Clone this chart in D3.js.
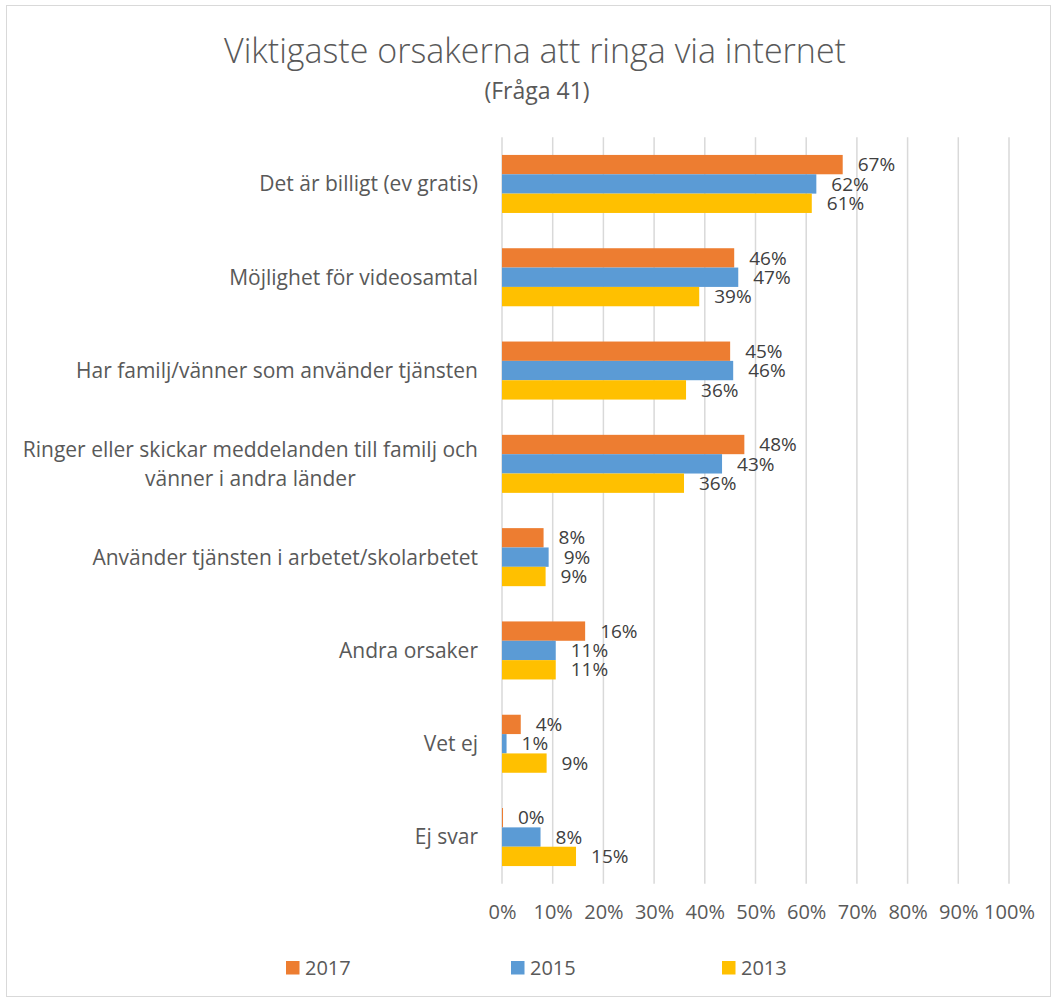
<!DOCTYPE html>
<html>
<head>
<meta charset="utf-8">
<script src="https://cdn.jsdelivr.net/npm/d3@7"></script>
<style>
  html, body { margin: 0; padding: 0; background: #fff; }
  svg { display: block; font-family: "Open Sans", Lato, sans-serif; }
</style>
</head>
<body>
<svg id="chart" width="1057" height="1001"></svg>
<script>
const categories = [
  "Det är billigt (ev gratis)",
  "Möjlighet för videosamtal",
  "Har familj/vänner som använder tjänsten",
  "Ringer eller skickar meddelanden till familj och\nvänner i andra länder",
  "Använder tjänsten i arbetet/skolarbetet",
  "Andra orsaker",
  "Vet ej",
  "Ej svar"
];
const seriesNames = ["2017", "2015", "2013"];
const values2017 = [67.2, 45.8, 45.0, 47.8, 8.2, 16.4, 3.7, 0.2];
const values2015 = [62.0, 46.6, 45.6, 43.4, 9.2, 10.6, 0.9, 7.6];
const values2013 = [61.1, 38.9, 36.3, 35.9, 8.6, 10.6, 8.8, 14.6];
const colors = ["#ED7D31", "#5B9BD5", "#FFC000"];
const tickValues = [0, 10, 20, 30, 40, 50, 60, 70, 80, 90, 100];
const title = "Viktigaste orsakerna att ringa via internet";
const subtitle = "(Fråga 41)";

const seriesValues = [values2017, values2015, values2013];
const svg = d3.select("#chart");
const FS = 20;
const DFS = 19;
const CFS = 21;

// frame
svg.append("rect").attr("x", 6.5).attr("y", 5.5).attr("width", 1044).attr("height", 991)
  .attr("fill", "#fff").attr("stroke", "#D9D9D9").attr("stroke-width", 1);

const m = { left: 502, right: 1009, top: 137.3, bottom: 883.7 };
const x = d3.scaleLinear().domain([0, 100]).range([m.left, m.right]);
const y = d3.scaleBand().domain(categories).range([m.top, m.bottom]).paddingInner(0.378).paddingOuter(0.189);
const ySub = d3.scaleBand().domain(seriesNames).range([0, y.bandwidth()]);

// title
svg.append("text").attr("x", 535).attr("y", 63).attr("text-anchor", "middle")
  .attr("font-size", 34).attr("fill", "#595959").attr("font-weight", 300).text(title);
svg.append("text").attr("x", 537).attr("y", 99).attr("text-anchor", "middle")
  .attr("font-size", 23).attr("fill", "#595959").text(subtitle);

// gridlines
svg.append("g").selectAll("line").data(tickValues).join("line")
  .attr("x1", d => x(d)).attr("x2", d => x(d))
  .attr("y1", m.top).attr("y2", m.bottom)
  .attr("stroke", "#D9D9D9").attr("stroke-width", 1.5);

// x axis labels
const xAxis = d3.axisBottom(x).tickValues(tickValues).tickFormat(d => d + "%").tickSize(0).tickPadding(0);
const gx = svg.append("g").attr("transform", `translate(0, ${m.bottom + 21})`).call(xAxis);
gx.select(".domain").remove();
gx.selectAll("text").attr("font-size", FS).attr("fill", "#595959").attr("font-family", "'Open Sans', sans-serif");

// bars
const fmt = d3.format(".0f");
seriesNames.forEach((s, si) => {
  const g = svg.append("g");
  g.selectAll("rect").data(categories).join("rect")
    .attr("x", x(0))
    .attr("y", (c) => y(c) + ySub(s))
    .attr("width", (c, i) => x(seriesValues[si][i]) - x(0))
    .attr("height", ySub.bandwidth())
    .attr("fill", colors[si]);
  g.selectAll("text").data(categories).join("text")
    .attr("x", (c, i) => x(seriesValues[si][i]) + 15)
    .attr("y", (c) => y(c) + ySub(s) + ySub.bandwidth() / 2)
    .attr("dy", "0.35em")
    .attr("font-size", DFS).attr("fill", "#404040")
    .text((c, i) => fmt(seriesValues[si][i]) + "%");
});

// category labels
const labG = svg.append("g");
categories.forEach(c => {
  const lines = c.split("\n");
  const cy = y(c) + y.bandwidth() / 2;
  if (lines.length === 1) {
    labG.append("text").attr("x", 478).attr("y", cy).attr("dy", "0.35em")
      .attr("text-anchor", "end").attr("font-size", CFS).attr("fill", "#595959").text(c);
  } else {
    const t0 = labG.append("text").attr("x", 478).attr("y", cy - 14.5).attr("dy", "0.35em")
      .attr("text-anchor", "end").attr("font-size", CFS).attr("fill", "#595959").text(lines[0]);
    const w = t0.node().getComputedTextLength();
    labG.append("text").attr("x", 478 - w / 2).attr("y", cy + 14.5).attr("dy", "0.35em")
      .attr("text-anchor", "middle").attr("font-size", CFS).attr("fill", "#595959").text(lines[1]);
  }
});

// legend
const legendX = [286, 511, 722];
const lg = svg.append("g");
seriesNames.forEach((s, i) => {
  lg.append("rect").attr("x", legendX[i]).attr("y", 961).attr("width", 13.5).attr("height", 13.5).attr("fill", colors[i]);
  lg.append("text").attr("x", legendX[i] + 19).attr("y", 967.5).attr("dy", "0.35em")
    .attr("font-size", FS).attr("fill", "#595959").text(s);
});
</script>
</body>
</html>
